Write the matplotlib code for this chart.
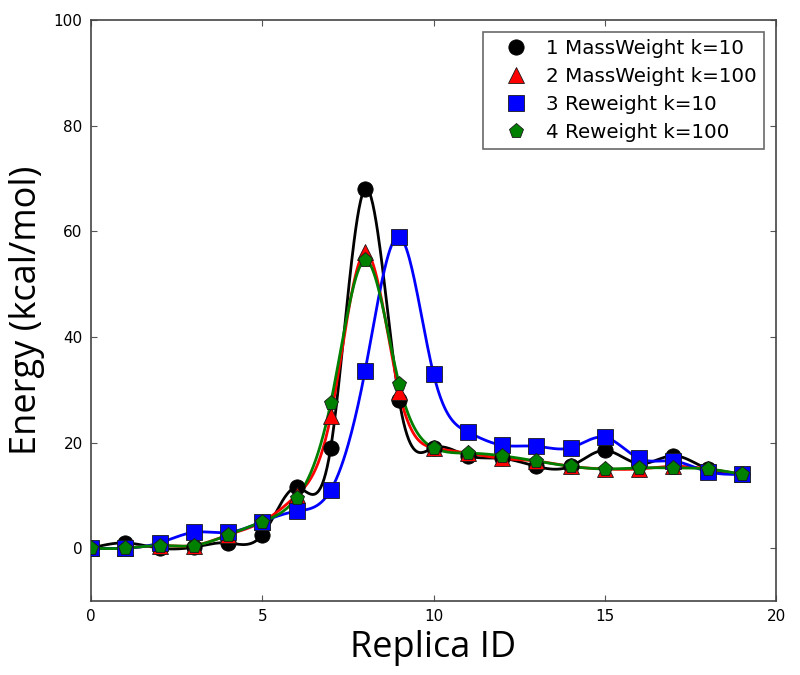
import numpy as np
import matplotlib
matplotlib.use("Agg")
import matplotlib.pyplot as plt

replica = list(range(20))
mass_k10 = [0, 1, 0, 0.2, 1, 2.5, 11.5, 19, 68, 28, 19, 17.5, 17, 15.5, 15.5, 18.5, 16, 17.5, 15, 14]
mass_k100 = [0, 0, 0.5, 0.5, 2.5, 5, 10, 25, 56, 29.5, 19, 18, 17, 16.5, 15.5, 15, 15, 15.5, 15, 14]
rew_k10 = [0, 0, 1, 3, 3, 5, 7, 11, 33.5, 59, 33, 22, 19.5, 19.3, 19, 21, 17, 16.5, 14.5, 14]
rew_k100 = [0, 0, 0.5, 0.5, 2.5, 5, 9.5, 27.5, 54.5, 31, 19, 18, 17.5, 16.5, 15.5, 15, 15.2, 15.2, 15, 14]

labels = ["1 MassWeight k=10", "2 MassWeight k=100", "3 Reweight k=10", "4 Reweight k=100"]
colors = ["black", "red", "blue", "green"]
markers = ["o", "^", "s", "p"]


def natural_spline(x, y, xs):
    x = np.asarray(x, float)
    y = np.asarray(y, float)
    n = len(x)
    h = np.diff(x)
    A = np.zeros((n, n))
    b = np.zeros(n)
    A[0, 0] = 1
    A[-1, -1] = 1
    for i in range(1, n - 1):
        A[i, i - 1] = h[i - 1]
        A[i, i] = 2 * (h[i - 1] + h[i])
        A[i, i + 1] = h[i]
        b[i] = 6 * ((y[i + 1] - y[i]) / h[i] - (y[i] - y[i - 1]) / h[i - 1])
    M = np.linalg.solve(A, b)
    idx = np.clip(np.searchsorted(x, xs) - 1, 0, n - 2)
    x0, x1 = x[idx], x[idx + 1]
    hh = x1 - x0
    t0 = x1 - xs
    t1 = xs - x0
    return (M[idx] * t0 ** 3 / (6 * hh) + M[idx + 1] * t1 ** 3 / (6 * hh)
            + (y[idx] / hh - M[idx] * hh / 6) * t0
            + (y[idx + 1] / hh - M[idx + 1] * hh / 6) * t1)


fig = plt.figure(figsize=(8, 6.75), dpi=100)
ax = fig.add_axes([91 / 800, 1 - 601 / 675, (776 - 91) / 800, (601 - 20) / 675])

xs = np.linspace(0, 19, 800)
series = [mass_k10, mass_k100, rew_k10, rew_k100]
for yv, c, m, lab in zip(series, colors, markers, labels):
    ax.plot(xs, natural_spline(replica, yv, xs), color=c, lw=2, zorder=2)
    ax.plot(replica, yv, linestyle="none", marker=m, color=c, markersize=11,
            markeredgecolor=(0.1, 0.1, 0.1) if c != "black" else "black", markeredgewidth=0.6,
            label=lab, zorder=3)

ax.set_xlim(0, 20)
ax.set_ylim(-10, 100)
ax.set_xticks([0, 5, 10, 15, 20])
ax.set_yticks([0, 20, 40, 60, 80, 100])
ax.tick_params(direction="in", length=4, width=0.8, labelsize=11, color="#555555", top=True, right=True, pad=6)
for s in ax.spines.values():
    s.set_color("#444444")
    s.set_linewidth(1.2)

ax.set_xlabel("Replica ID", fontsize=26, family="Open Sans", labelpad=4)
ax.set_ylabel("Energy (kcal/mol)", fontsize=26, family="Open Sans", labelpad=6)

leg = ax.legend(loc="upper right", numpoints=1, fontsize=14.3, fancybox=False,
                borderpad=0.35, labelspacing=0.45, handlelength=2.6, handletextpad=0.25,
                borderaxespad=0.6)
leg.get_frame().set_edgecolor("#444444")
leg.get_frame().set_linewidth(1.2)

fig.savefig("out.png", dpi=100)
